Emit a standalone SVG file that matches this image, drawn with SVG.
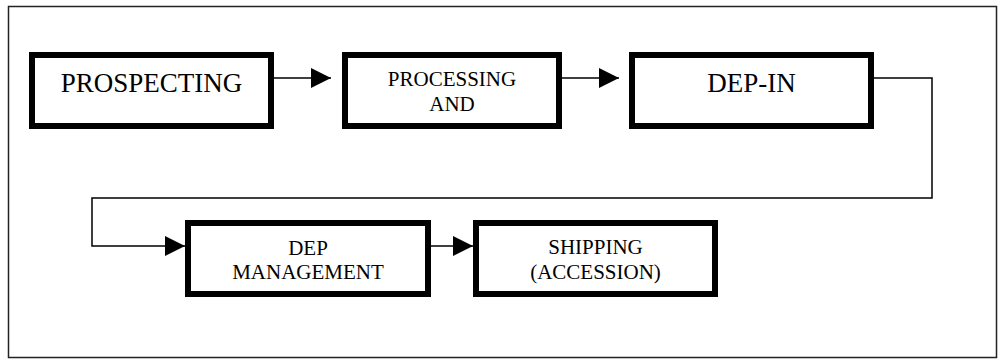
<svg xmlns="http://www.w3.org/2000/svg" width="1005" height="364" viewBox="0 0 1005 364">
<style>
.box{fill:#fff;stroke:#000;stroke-width:6}
.lg{font-family:"Liberation Serif","Times New Roman",serif;font-size:27px;fill:#000;text-anchor:middle}
.sm{font-family:"Liberation Serif","Times New Roman",serif;font-size:21px;fill:#000;text-anchor:middle}
.con{fill:none;stroke:#000;stroke-width:1.5}
</style>
<defs>
<marker id="ah" markerUnits="userSpaceOnUse" markerWidth="20" markerHeight="20" viewBox="0 0 20 20" refX="20" refY="10" orient="auto">
<path d="M0,0 L20,10 L0,20 z" fill="#000"/>
</marker>
</defs>
<rect x="8.5" y="6.5" width="988" height="351" fill="#fff" stroke="#222" stroke-width="1.5"/>
<g id="connectors">
<line class="con" x1="274" y1="78" x2="331" y2="78" marker-end="url(#ah)"/>
<line class="con" x1="562" y1="78" x2="619" y2="78" marker-end="url(#ah)"/>
<polyline class="con" points="874,78 932,78 932,198 92,198 92,246 185,246" marker-end="url(#ah)"/>
<line class="con" x1="431" y1="246" x2="473" y2="246" marker-end="url(#ah)"/>
</g>
<g id="prospecting">
<rect class="box" x="32" y="55" width="239" height="71"/>
<text class="lg" x="151.5" y="92">PROSPECTING</text>
</g>
<g id="processing">
<rect class="box" x="345" y="55" width="214" height="71"/>
<text class="sm" x="452" y="86">PROCESSING</text>
<text class="sm" x="452" y="111">AND</text>
</g>
<g id="dep-in">
<rect class="box" x="632" y="55" width="239" height="71"/>
<text class="lg" x="751.5" y="92">DEP-IN</text>
</g>
<g id="dep-management">
<rect class="box" x="188" y="223" width="240" height="71"/>
<text class="sm" x="308" y="255">DEP</text>
<text class="sm" x="308" y="279">MANAGEMENT</text>
</g>
<g id="shipping">
<rect class="box" x="476" y="223" width="239" height="71"/>
<text class="sm" x="595.5" y="254">SHIPPING</text>
<text class="sm" x="595.5" y="279">(ACCESSION)</text>
</g>
</svg>
